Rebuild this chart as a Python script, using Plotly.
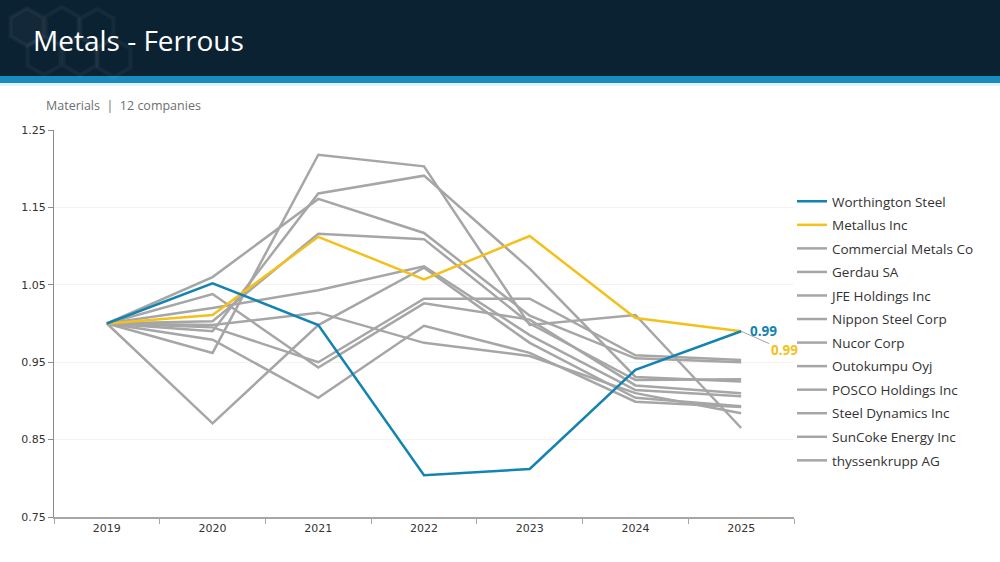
import math
import plotly.graph_objects as go

years = ["2019", "2020", "2021", "2022", "2023", "2024", "2025"]

worthington_steel = [1.000, 1.052, 0.998, 0.804, 0.812, 0.940, 0.990]
metallus_inc = [1.000, 1.011, 1.112, 1.057, 1.113, 1.007, 0.990]

commercial_metals = [1.000, 1.060, 1.161, 1.117, 1.010, 0.955, 0.950]
gerdau = [1.000, 0.990, 1.168, 1.191, 1.071, 0.931, 0.925]
jfe_holdings = [1.000, 0.962, 1.218, 1.203, 0.998, 1.011, 0.865]
nippon_steel = [1.000, 1.003, 1.116, 1.109, 1.000, 0.927, 0.928]
nucor = [1.000, 1.020, 1.043, 1.074, 0.985, 0.914, 0.906]
outokumpu = [1.000, 0.871, 0.998, 1.072, 0.975, 0.904, 0.893]
posco = [1.000, 0.995, 0.950, 1.032, 1.032, 0.959, 0.953]
steel_dynamics = [1.000, 1.038, 0.943, 1.026, 1.005, 0.920, 0.910]
suncoke = [1.000, 0.979, 0.904, 0.997, 0.962, 0.899, 0.892]
thyssenkrupp = [1.000, 0.998, 1.014, 0.975, 0.958, 0.910, 0.884]

gray_names = ["Commercial Metals Co", "Gerdau SA", "JFE Holdings Inc", "Nippon Steel Corp",
              "Nucor Corp", "Outokumpu Oyj", "POSCO Holdings Inc", "Steel Dynamics Inc",
              "SunCoke Energy Inc", "thyssenkrupp AG"]
gray_values = [commercial_metals, gerdau, jfe_holdings, nippon_steel, nucor, outokumpu,
               posco, steel_dynamics, suncoke, thyssenkrupp]

y_ticks = [0.75, 0.85, 0.95, 1.05, 1.15, 1.25]

BLUE = "#1483b1"
YELLOW = "#f4c01c"
GRAY = "#a6a6a6"

# plot area in pixels
L, R, T, B = 54, 794, 130, 517


def px(x):
    return (x - L) / (R - L)


def py(y):
    return (B - y) / (B - T)


fig = go.Figure()

for i, (name, vals) in enumerate(zip(gray_names, gray_values)):
    fig.add_trace(go.Scatter(x=years, y=vals, mode="lines", name=name,
                             line=dict(color=GRAY, width=2.5), legendrank=10 + i,
                             legendgroup=name))
fig.add_trace(go.Scatter(x=years, y=metallus_inc, mode="lines", name="Metallus Inc",
                         line=dict(color=YELLOW, width=2.5), legendrank=2, legendgroup="Metallus Inc"))
fig.add_trace(go.Scatter(x=years, y=worthington_steel, mode="lines", name="Worthington Steel",
                         line=dict(color=BLUE, width=2.5), legendrank=1, legendgroup="Worthington Steel"))

shapes = []
# header band
shapes.append(dict(type="rect", xref="paper", yref="paper", x0=px(0), x1=px(1000),
                   y0=py(76), y1=py(0), fillcolor="#0b2233", line=dict(width=0), layer="below"))
shapes.append(dict(type="rect", xref="paper", yref="paper", x0=px(0), x1=px(1000),
                   y0=py(83), y1=py(76), fillcolor="#1a8bc0", line=dict(width=0), layer="below"))
shapes.append(dict(type="rect", xref="paper", yref="paper", x0=px(0), x1=px(1000),
                   y0=py(86), y1=py(83), fillcolor="#e4f1f7", line=dict(width=0), layer="below"))


def hexpath(cx, cy, r):
    pts = []
    for k in range(6):
        a = math.radians(60 * k + 30)
        pts.append((px(cx + r * math.cos(a)), py(cy + r * math.sin(a))))
    return "M " + " L ".join(f"{x},{y}" for x, y in pts) + " Z"


for (cx, cy, filled) in [(27, 27, True), (62, 26, False), (97, 28, False), (44, 56, False),
                         (80, 56, False), (114, 58, False)]:
    shapes.append(dict(type="path", xref="paper", yref="paper", path=hexpath(cx, cy, 19),
                       fillcolor="rgba(255,255,255,0.035)" if filled else "rgba(0,0,0,0)",
                       line=dict(color="rgba(255,255,255,0.045)", width=4), layer="below"))

annotations = [
    dict(text="Metals - Ferrous", xref="paper", yref="paper", x=px(31), y=py(40),
         xanchor="left", yanchor="middle", showarrow=False,
         font=dict(family="Open Sans", size=28, color="white", weight=500)),
    dict(text="Materials  |  12 companies", xref="paper", yref="paper", x=px(44), y=py(106),
         xanchor="left", yanchor="middle", showarrow=False,
         font=dict(family="Open Sans", size=12.5, color="#6e6e6e")),
    dict(text="<b>0.99</b>", x=6, y=worthington_steel[-1], xref="x", yref="y",
         xanchor="left", yanchor="middle", showarrow=False, xshift=7,
         font=dict(family="Open Sans", size=13.5, color=BLUE)),
    dict(text="<b>0.99</b>", x=6, y=metallus_inc[-1], xref="x", yref="y",
         showarrow=True, ax=43, ay=19, axref="pixel", ayref="pixel",
         arrowhead=0, arrowwidth=0.8, arrowcolor="#8c8c8c", standoff=0, startstandoff=0,
         font=dict(family="Open Sans", size=13.5, color=YELLOW)),
]

fig.update_layout(
    width=1000, height=562,
    margin=dict(l=L, r=1000 - R, t=T, b=562 - B),
    paper_bgcolor="white", plot_bgcolor="white",
    showlegend=True,
    legend=dict(x=px(792), y=py(186), xanchor="left", yanchor="top",
                font=dict(family="Open Sans", size=13.5, color="#333333"),
                itemwidth=30, tracegroupgap=3.0, bgcolor="rgba(0,0,0,0)",
                traceorder="grouped"),
    shapes=shapes,
    annotations=annotations,
    xaxis=dict(type="category", range=[-0.5, 6.5], tickson="boundaries",
               ticks="outside", ticklen=5, tickcolor="#a6a6a6",
               showline=True, linecolor="#a6a6a6", linewidth=2,
               showgrid=False, zeroline=False,
               tickfont=dict(family="DejaVu Sans", size=11, color="#333333")),
    yaxis=dict(range=[0.75, 1.25], tickvals=y_ticks, tickformat=".2f",
               ticks="outside", ticklen=5, tickcolor="#8c8c8c",
               showline=True, linecolor="#8c8c8c", linewidth=1,
               showgrid=True, gridcolor="#f3f3f3", gridwidth=1, zeroline=False,
               tickfont=dict(family="DejaVu Sans", size=11, color="#333333")),
)

fig.write_html("out.html")
